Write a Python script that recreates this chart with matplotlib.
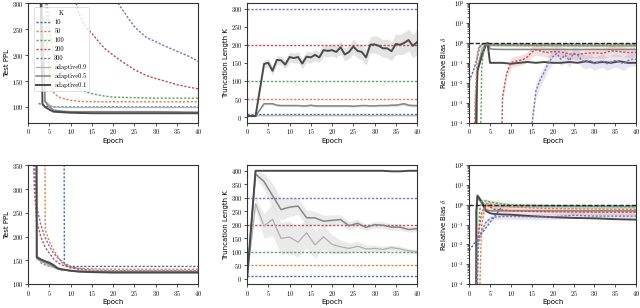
import numpy as np
import matplotlib
matplotlib.use("Agg")
import matplotlib.pyplot as plt
from matplotlib.ticker import LogLocator, NullFormatter

plt.rcParams['font.family'] = ['cmr10', 'DejaVu Serif']
plt.rcParams['mathtext.fontset'] = 'cm'
plt.rcParams['axes.formatter.use_mathtext'] = True
plt.rcParams['axes.unicode_minus'] = False

# ---------------- colours / labels ----------------
K_LABELS = ["10", "50", "100", "200", "300"]
K_VALUES = [10, 50, 100, 200, 300]
K_COLORS = ["#4C72B0", "#DD8452", "#55A868", "#C44E52", "#8172B3"]
AD_LABELS = ["adaptive0.9", "adaptive0.5", "adaptive0.1"]
AD_COLORS = ["#b0b0b0", "#858585", "#4a4a4a"]
AD_WIDTHS = [0.9, 1.1, 1.4]

# ---------------- top-left: test PPL ----------------
tl_k_x = [
    [2.5, 3, 4, 5, 6, 10, 20, 30, 40],
    [4.2, 4.5, 5, 6, 7, 8, 10, 12, 15, 20, 30, 40],
    [4.5, 5, 6, 7, 8, 9, 10, 12, 14, 16, 18, 20, 25, 30, 40],
    [11.3, 12, 13, 14, 15, 16, 17, 18, 20, 22, 25, 28, 30, 33, 35, 38, 40],
    [21.2, 22, 23, 24, 25, 26, 27, 28, 30, 32, 34, 36, 38, 40],
]
tl_k_y = [
    [107, 105, 102, 100, 100, 100, 100, 100, 100],
    [300, 220, 160, 128, 120, 117, 113, 111, 110, 110, 110, 110],
    [300, 250, 205, 180, 163, 152, 145, 135, 128, 124, 121, 119, 118, 117, 117],
    [300, 280, 262, 250, 242, 232, 222, 213, 200, 188, 172, 160, 155, 148, 143, 138, 135],
    [300, 290, 278, 266, 255, 247, 240, 233, 226, 218, 211, 204, 197, 188],
]
tl_ad_x = [
    [3.2, 4, 5, 6, 8, 10, 20, 30, 40],
    [3.2, 4, 5, 6, 8, 10, 20, 30, 40],
    [3.0, 3.4, 4, 5, 6, 8, 10, 15, 20, 30, 40],
]
tl_ad_y = [
    [300, 112, 104, 100, 99, 99, 99, 99, 99],
    [300, 110, 100, 94, 92, 91, 91, 91, 90],
    [300, 106, 100, 95, 91, 90, 89, 88, 88, 88, 88],
]

# ---------------- top-middle: truncation length ----------------
tm_epochs = list(range(41))
tm_dark = [3, 3, 3, 75, 147, 150, 128, 158, 157, 145, 166, 163, 166, 148, 167, 165,
           172, 165, 185, 183, 185, 180, 193, 173, 180, 195, 183, 180, 165, 200, 201,
           197, 190, 190, 182, 202, 200, 205, 213, 197, 207]
tm_dark_sd = [0, 0, 0, 8, 10, 12, 12, 12, 12, 12, 14, 14, 14, 14, 15, 15, 15, 15, 16, 16, 16,
              16, 18, 18, 18, 20, 20, 20, 22, 22, 24, 24, 24, 26, 26, 28, 28, 30, 30, 32, 34]
tm_mid = [3, 3, 3, 20, 37, 37, 37, 33, 32, 32, 32, 32, 32, 31, 31, 33, 31, 31, 31, 31, 31,
          31, 31, 31, 31, 30, 31, 32, 32, 31, 31, 32, 32, 32, 33, 33, 35, 37, 33, 32, 32]
tm_mid_sd = [0, 0, 0, 2, 3, 3, 3, 3, 3, 3, 3, 3, 3, 3, 3, 3, 3, 3, 3, 3, 3,
             3, 3, 3, 3, 3, 3, 3, 3, 3, 3, 3, 3, 3, 4, 4, 4, 4, 4, 4, 4]
tm_light = [3, 3, 3, 4, 4, 4, 4, 4, 4, 4, 4, 4, 4, 4, 4, 4, 4, 4, 4, 4, 4,
            4, 4, 4, 4, 4, 4, 4, 4, 4, 4, 4, 4, 4, 4, 4, 4, 4, 4, 4, 4]

# ---------------- top-right: relative bias ----------------
tr_k_x = [
    [0, 1, 2, 2.5, 3, 4, 5, 10, 20, 30, 40],
    [1.2, 1.4, 2, 2.5, 3, 4, 5, 10, 20, 30, 40],
    [2.7, 2.9, 3, 3.5, 4, 5, 10, 20, 30, 40],
    [7.8, 8, 9, 10, 11, 12, 13, 14, 15, 16, 17, 18, 19, 20, 22, 24, 26, 28, 30, 32, 34, 36, 38, 40],
    [14.5, 16, 17, 18, 19, 20, 21, 22, 23, 24, 25, 26, 27, 28, 29, 30, 31, 32, 33, 34, 35, 36, 37, 38, 39, 40],
]
tr_k_y = [
    [0.012, 0.04, 0.2, 0.6, 0.85, 0.88, 0.88, 0.88, 0.88, 0.88, 0.88],
    [1e-5, 1e-3, 0.4, 0.7, 0.8, 0.85, 0.8, 0.75, 0.75, 0.72, 0.72],
    [1e-5, 1e-3, 0.05, 0.5, 0.75, 0.75, 0.75, 0.72, 0.72, 0.72],
    [1e-5, 2e-3, 0.03, 0.1, 0.12, 0.13, 0.15, 0.2, 0.35, 0.45, 0.4, 0.35, 0.33, 0.37,
     0.35, 0.28, 0.26, 0.3, 0.32, 0.3, 0.4, 0.37, 0.33, 0.34],
    [1e-5, 0.004, 0.014, 0.035, 0.1, 0.2, 0.3, 0.15, 0.25, 0.13, 0.3, 0.25, 0.13, 0.11,
     0.13, 0.09, 0.11, 0.13, 0.09, 0.11, 0.13, 0.11, 0.09, 0.13, 0.15, 0.15],
]
tr_k_band = [1.2, 1.15, 1.15, 1.8, 2.2]
tr_ad_x = [
    [1.8, 2.0, 3, 4, 5, 6, 8, 10, 20, 30, 40],
    [1.8, 2.0, 3, 4, 4.5, 5, 6, 8, 10, 20, 30, 40],
    [1.6, 1.7, 2, 3, 4, 4.4, 5, 6, 8, 10, 12, 14, 16, 18, 20, 22, 24, 26, 28, 30, 32, 34, 36, 38, 40],
]
tr_ad_y = [
    [1e-5, 0.05, 0.5, 0.9, 0.8, 0.8, 0.8, 0.8, 0.8, 0.78, 0.78],
    [1e-5, 0.04, 0.3, 0.9, 1.0, 0.5, 0.48, 0.47, 0.47, 0.47, 0.47, 0.47],
    [1e-5, 1e-3, 0.04, 0.2, 0.8, 1.0, 0.1, 0.1, 0.1, 0.09, 0.1, 0.11, 0.1, 0.11, 0.1,
     0.1, 0.11, 0.1, 0.12, 0.1, 0.11, 0.1, 0.12, 0.1, 0.1],
]

# ---------------- bottom-left: test PPL ----------------
bl_k_x = [
    [8.5, 8.55, 10, 15, 20, 30, 40],
    [4, 4.05, 5, 6, 7, 8, 9, 10, 12, 15, 20, 40],
    [2, 3, 4, 5, 6, 7, 8, 10, 12, 15, 20, 40],
    [1.3, 1.5, 2, 3, 4, 5, 6, 7, 8, 10, 12, 15, 20, 40],
    [1.5, 1.8, 2, 3, 4, 5, 6, 7, 8, 10, 12, 15, 20, 40],
]
bl_k_y = [
    [360, 140, 137, 137, 137, 137, 137],
    [360, 215, 190, 172, 158, 145, 139, 135, 133, 132, 131, 131],
    [160, 145, 140, 137, 136, 133, 130, 128, 126, 125, 125, 125],
    [360, 300, 235, 200, 178, 165, 153, 145, 140, 134, 131, 129, 128, 128],
    [360, 300, 265, 225, 198, 180, 165, 155, 147, 137, 132, 128, 127, 127],
]
bl_ad_x = [2, 2.05, 3, 4, 5, 6, 7, 8, 10, 12, 15, 20, 30, 40]
bl_ad_y = [
    [360, 152, 148, 143, 139, 135, 131, 129, 128, 127, 127, 127, 127, 127],
    [360, 155, 150, 146, 142, 137, 132, 130, 128, 127, 126, 126, 126, 126],
    [360, 157, 152, 148, 145, 140, 133, 131, 128, 126, 125, 124, 124, 124],
]

# ---------------- bottom-middle: truncation length ----------------
bm_epochs = list(range(0, 41, 2))
bm_dark = [0, 400, 400, 400, 400, 400, 400, 400, 400, 400, 400, 400, 400, 400, 400,
           400, 400, 398, 398, 400, 400]
bm_mid = [0, 388, 360, 308, 256, 265, 269, 226, 225, 213, 216, 219, 196, 205, 190,
          200, 198, 191, 191, 182, 185]
bm_mid_sd = [0, 10, 30, 45, 40, 35, 30, 28, 25, 22, 20, 18, 15, 15, 12, 12, 12, 12, 12, 10, 10]
bm_light = [0, 278, 195, 220, 149, 154, 135, 170, 125, 155, 127, 118, 112, 120, 110,
            112, 108, 115, 110, 103, 100]
bm_light_sd = [0, 20, 45, 60, 60, 60, 55, 55, 50, 45, 35, 25, 20, 18, 15, 12, 12, 10, 10, 8, 8]

# ---------------- bottom-right: relative bias ----------------
br_k_x = [
    [0, 8, 10, 20, 30, 40],
    [2.5, 2.7, 3, 4, 5, 6, 8, 10, 15, 20, 30, 40],
    [2, 2.5, 3, 4, 5, 6, 8, 10, 15, 20, 30, 40],
    [1.8, 2, 3, 4, 5, 6, 8, 10, 15, 20, 30, 40],
    [1.7, 1.9, 2, 3, 4, 5, 6, 8, 10, 15, 20, 25, 30, 35, 40],
]
br_k_y = [
    [0.005, 0.9, 0.9, 0.9, 0.9, 0.9],
    [1e-5, 1e-3, 0.1, 1.2, 1.1, 1.0, 0.9, 0.8, 0.7, 0.65, 0.62, 0.6],
    [1e-4, 0.5, 1.5, 1.6, 1.4, 1.3, 1.1, 1.0, 0.95, 0.9, 0.85, 0.8],
    [1e-5, 0.02, 0.4, 1.0, 0.8, 0.6, 0.55, 0.5, 0.47, 0.45, 0.43, 0.43],
    [1e-5, 3e-3, 0.01, 0.05, 0.13, 0.2, 0.24, 0.26, 0.26, 0.25, 0.25, 0.3, 0.27, 0.27, 0.27],
]
br_k_band = [1.0, 1.5, 1.3, 1.4, 1.4]
br_ad_x = [1.7, 1.75, 2, 3, 4, 5, 6, 8, 10, 15, 20, 25, 30, 35, 40]
br_ad_y = [
    [1e-5, 0.5, 2.0, 1.5, 1.0, 0.9, 0.85, 0.8, 0.8, 0.8, 0.8, 0.8, 0.8, 0.8, 0.8],
    [1e-5, 0.5, 2.5, 1.2, 0.6, 0.5, 0.5, 0.5, 0.5, 0.5, 0.5, 0.5, 0.5, 0.5, 0.5],
    [1e-5, 0.5, 3.0, 1.5, 0.5, 0.38, 0.35, 0.33, 0.32, 0.27, 0.24, 0.22, 0.21, 0.19, 0.18],
]

# ---------------- figure ----------------
fig = plt.figure(figsize=(6.4, 3.08), dpi=100)
pos = {
    (0, 0): [0.0438, 0.602, 0.2656, 0.388],
    (0, 1): [0.386, 0.602, 0.2656, 0.388],
    (0, 2): [0.733, 0.602, 0.261, 0.388],
    (1, 0): [0.0438, 0.078, 0.2656, 0.385],
    (1, 1): [0.386, 0.078, 0.2656, 0.385],
    (1, 2): [0.733, 0.078, 0.261, 0.385],
}
axes = {k: fig.add_axes(v) for k, v in pos.items()}

KSTYLE = dict(linestyle=(0, (1.6, 1.2)), linewidth=1.0)
LAB = dict(family='DejaVu Sans', fontsize=5.0)


def style(ax, ylabel):
    ax.set_xlim(0, 40)
    ax.set_xticks(range(0, 41, 5))
    ax.set_xlabel("Epoch", labelpad=1, **LAB)
    ax.set_ylabel(ylabel, labelpad=1.5, **LAB)
    ax.tick_params(labelsize=4.5, length=2, width=0.6, pad=1.5, color='#333333')
    ax.tick_params(which='minor', length=1.2, width=0.4)
    for s in ax.spines.values():
        s.set_linewidth(0.8)
        s.set_color('#333333')


# top-left
ax = axes[(0, 0)]
for i in range(5):
    ax.plot(tl_k_x[i], tl_k_y[i], color=K_COLORS[i], label=K_LABELS[i], **KSTYLE)
for i in range(3):
    ax.plot(tl_ad_x[i], tl_ad_y[i], color=AD_COLORS[i], lw=AD_WIDTHS[i], label=AD_LABELS[i])
ax.set_ylim(70, 300)
ax.set_yticks([100, 150, 200, 250, 300])
style(ax, "Test PPL")
leg = ax.legend(title="K", loc='upper left', fontsize=4.6, title_fontsize=4.6,
                frameon=True, handlelength=2.2, labelspacing=0.5, borderpad=0.4,
                handletextpad=0.6, bbox_to_anchor=(0.015, 0.99))
leg.get_frame().set_linewidth(0.5)

# top-middle
ax = axes[(0, 1)]
for i in range(5):
    ax.axhline(K_VALUES[i], color=K_COLORS[i], **KSTYLE)
d = np.array(tm_dark); s = np.array(tm_dark_sd)
ax.fill_between(tm_epochs, d - s, d + s, color='#dcdcdc', alpha=0.8, lw=0)
m = np.array(tm_mid); sm = np.array(tm_mid_sd)
ax.fill_between(tm_epochs, m - sm, m + sm, color='#dcdcdc', alpha=0.8, lw=0)
ax.plot(tm_epochs, tm_light, color=AD_COLORS[0], lw=AD_WIDTHS[0])
ax.plot(tm_epochs, tm_mid, color=AD_COLORS[1], lw=AD_WIDTHS[1])
ax.plot(tm_epochs, tm_dark, color=AD_COLORS[2], lw=AD_WIDTHS[2])
ax.set_ylim(-15, 315)
ax.set_yticks(range(0, 301, 50))
style(ax, "Truncation Length K")


def bias_axes(ax, kx, ky, kband, adx, ady):
    ax.set_yscale('log')
    for i in range(5):
        y = np.array(ky[i]); f = kband[i]
        if f > 1.0:
            ax.fill_between(kx[i], y / f, y * f, color=K_COLORS[i], alpha=0.18, lw=0)
    for i in range(3):
        x = adx[i] if isinstance(adx[0], list) else adx
        ax.plot(x, ady[i], color=AD_COLORS[i], lw=AD_WIDTHS[i])
    for i in range(5):
        ax.plot(kx[i], ky[i], color=K_COLORS[i], **KSTYLE)
    ax.axhline(1.0, color='#222222', lw=1.0, linestyle=(0, (3, 1.5)))
    ax.set_ylim(1e-4, 1e2)
    ax.yaxis.set_major_locator(LogLocator(base=10, numticks=10))
    ax.yaxis.set_minor_locator(LogLocator(base=10, subs=np.arange(2, 10), numticks=20))
    ax.yaxis.set_minor_formatter(NullFormatter())
    style(ax, r"Relative Bias $\delta$")


bias_axes(axes[(0, 2)], tr_k_x, tr_k_y, tr_k_band, tr_ad_x, tr_ad_y)

# bottom-left
ax = axes[(1, 0)]
for i in range(5):
    ax.plot(bl_k_x[i], bl_k_y[i], color=K_COLORS[i], **KSTYLE)
for i in range(3):
    ax.plot(bl_ad_x, bl_ad_y[i], color=AD_COLORS[i], lw=AD_WIDTHS[i])
ax.set_ylim(100, 350)
ax.set_yticks(range(100, 351, 50))
style(ax, "Test PPL")

# bottom-middle
ax = axes[(1, 1)]
for i in range(5):
    ax.axhline(K_VALUES[i], color=K_COLORS[i], **KSTYLE)
m = np.array(bm_mid); sm = np.array(bm_mid_sd)
ax.fill_between(bm_epochs, m - sm, m + sm, color='#dcdcdc', alpha=0.6, lw=0)
l = np.array(bm_light); sl = np.array(bm_light_sd)
ax.fill_between(bm_epochs, l - sl, l + sl, color='#dcdcdc', alpha=0.6, lw=0)
ax.plot(bm_epochs, bm_light, color=AD_COLORS[0], lw=AD_WIDTHS[0])
ax.plot(bm_epochs, bm_mid, color=AD_COLORS[1], lw=AD_WIDTHS[1])
ax.plot(bm_epochs, bm_dark, color=AD_COLORS[2], lw=AD_WIDTHS[2])
ax.set_ylim(-20, 420)
ax.set_yticks(range(0, 401, 50))
style(ax, "Truncation Length K")

# bottom-right
bias_axes(axes[(1, 2)], br_k_x, br_k_y, br_k_band, br_ad_x, br_ad_y)

fig.savefig("out.png", dpi=100)
